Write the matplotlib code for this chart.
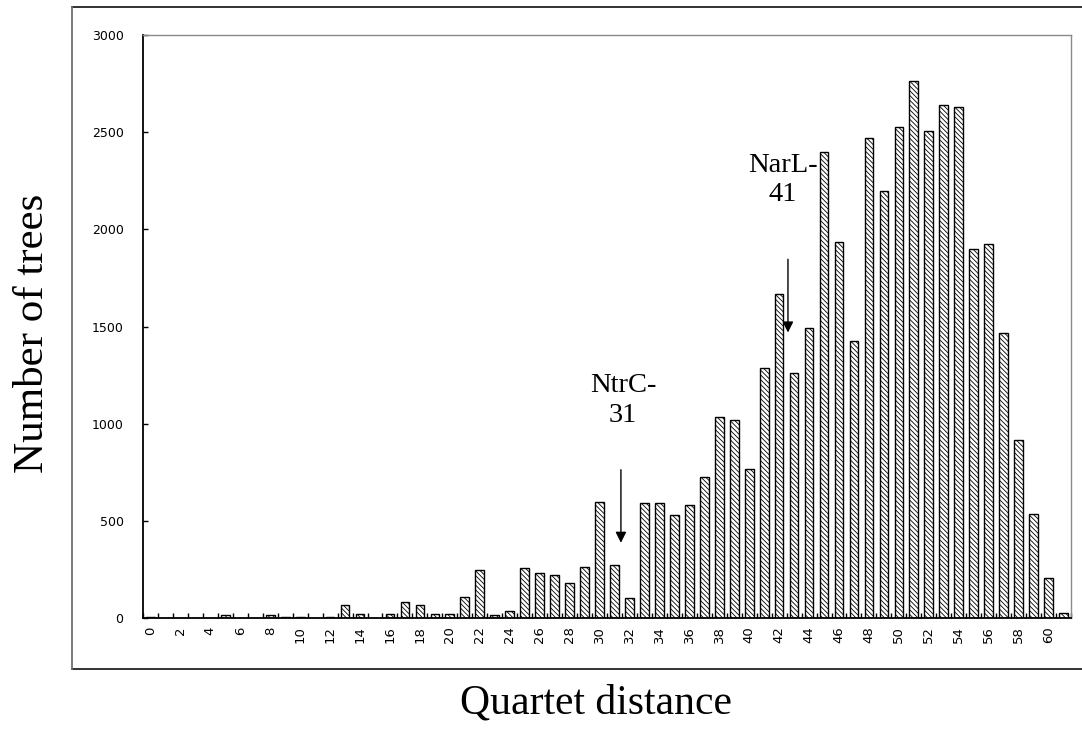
import matplotlib
matplotlib.use("Agg")
from matplotlib import pyplot as plt
from matplotlib.lines import Line2D
import numpy as np

# number of trees found at each quartet distance (0..61)
distances = list(range(62))
tree_counts = [5, 0, 0, 0, 0, 15, 0, 0, 15, 5,
               5, 0, 5, 67, 20, 0, 20, 80, 68, 20,
               20, 108, 245, 15, 37, 258, 232, 222, 180, 263,
               598, 275, 103, 593, 593, 531, 583, 727, 1036, 1021,
               768, 1289, 1665, 1263, 1490, 2398, 1933, 1423, 2470, 2197,
               2527, 2764, 2506, 2640, 2630, 1897, 1923, 1469, 918, 533,
               206, 25]
tick_labels = [str(d) for d in range(0, 61, 2)]

# arrows marking the two reference trees
marks = [("NtrC-\n31", 31.43, 387, 763, 31.57, 1010),
         ("NarL-\n41", 42.59, 1469, 1846, 42.26, 2144)]

W, H = 1082, 729
fig = plt.figure(figsize=(W / 100, H / 100), dpi=100)
fig.patch.set_facecolor("white")
plt.rcParams["hatch.linewidth"] = 0.6

ax = fig.add_axes([143 / W, 1 - 618 / H, (1071 - 143) / W, (618 - 35) / H])

ax.bar(distances, tree_counts, width=0.58, color="white", edgecolor="black",
       linewidth=1.0, hatch="\\" * 7)

ax.set_xlim(-0.5, 61.5)
ax.set_ylim(0, 3000)

# labels every second category, tick marks between categories
ax.set_xticks(range(0, 61, 2))
ax.set_xticklabels(tick_labels, rotation=90, fontsize=9.5, family="DejaVu Sans")
ax.set_xticks(np.arange(-0.5, 62, 1), minor=True)
ax.tick_params(axis="x", which="major", length=0, pad=6)
ax.tick_params(axis="x", which="minor", direction="in", length=3.6, width=1)

ax.set_yticks(range(0, 3001, 500))
ax.set_yticklabels([str(v) for v in range(0, 3001, 500)], fontsize=9, family="DejaVu Sans")
ax.tick_params(axis="y", direction="in", length=3.6, width=1, pad=14)

for side in ["left", "bottom"]:
    ax.spines[side].set_color("black")
    ax.spines[side].set_linewidth(1.3)
for side in ["top", "right"]:
    ax.spines[side].set_color("#8a8a8a")
    ax.spines[side].set_linewidth(1.0)

for text, ax_x, tip, tail, tx, ty in marks:
    ax.annotate("", xy=(ax_x, tip), xytext=(ax_x, tail),
                arrowprops=dict(arrowstyle="-|>", color="black", lw=1.0,
                                mutation_scale=16, shrinkA=0, shrinkB=0))
    ax.text(tx, ty, text, ha="center", va="baseline", fontsize=20.5,
            family="Liberation Serif", linespacing=1.25)

fig.text(33 / W, 1 - 333 / H, "Number of trees", rotation=90, ha="center",
         va="center", fontsize=31, family="Liberation Serif")
fig.text(596 / W, 1 - 703 / H, "Quartet distance", ha="center", va="center",
         fontsize=30, family="Liberation Serif")

# outer chart frame
fig.add_artist(Line2D([72 / W, 1], [1 - 7 / H, 1 - 7 / H], transform=fig.transFigure,
                      color="#222222", lw=1.3))
fig.add_artist(Line2D([72 / W, 1], [1 - 669 / H, 1 - 669 / H], transform=fig.transFigure,
                      color="#222222", lw=1.3))
fig.add_artist(Line2D([72 / W, 72 / W], [1 - 7 / H, 1 - 669 / H], transform=fig.transFigure,
                      color="#707070", lw=1.3))

fig.savefig("out.png", dpi=100)
